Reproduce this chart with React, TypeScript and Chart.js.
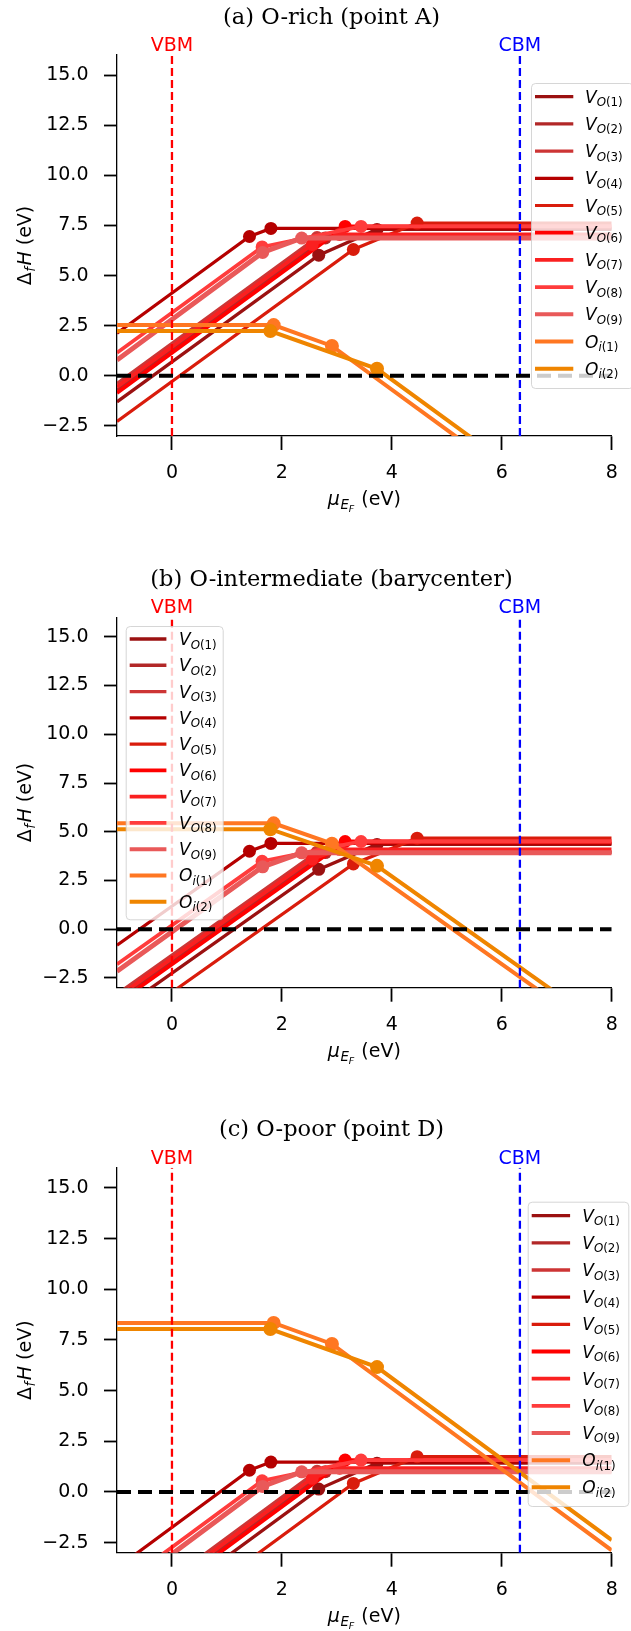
import React, { useEffect, useRef } from "react";
import { Chart, registerables } from "chart.js";

Chart.register(...registerables);

// ---------------- data ----------------
const X_TICKS = [0, 2, 4, 6, 8];
const Y_TICKS = [-2.5, 0, 2.5, 5, 7.5, 10, 12.5, 15];
const X_MIN = -1;
const X_MAX = 8;
const Y_MIN = -3;
const Y_MAX = 16;
const VBM_X = 0;
const CBM_X = 6.33;

const PANEL_TITLES = [
  "(a) O-rich (point A)",
  "(b) O-intermediate (barycenter)",
  "(c) O-poor (point D)",
];

// breakpoints (Fermi level, eV) and formation energies per panel (a, b, c)
const VO1_X = [-1, 2.67, 3.73, 8];
const VO1_A = [-1.3, 6.02, 7.3, 7.3];
const VO1_B = [-4.25, 3.07, 4.35, 4.35];
const VO1_C = [-7.18, 0.14, 1.42, 1.42];

const VO2_X = [-1, 2.79, 8];
const VO2_A = [-0.7, 6.88, 6.88];
const VO2_B = [-3.65, 3.93, 3.93];
const VO2_C = [-6.58, 1.0, 1.0];

const VO3_X = [-1, 2.64, 8];
const VO3_A = [-0.38, 6.9, 6.9];
const VO3_B = [-3.33, 3.95, 3.95];
const VO3_C = [-6.26, 1.02, 1.02];

const VO4_X = [-1, 1.41, 1.8, 8];
const VO4_A = [2.13, 6.95, 7.35, 7.35];
const VO4_B = [-0.82, 4.0, 4.4, 4.4];
const VO4_C = [-3.75, 1.07, 1.47, 1.47];

const VO5_X = [-1, 3.3, 4.46, 8];
const VO5_A = [-2.28, 6.3, 7.62, 7.62];
const VO5_B = [-5.23, 3.35, 4.67, 4.67];
const VO5_C = [-8.16, 0.42, 1.74, 1.74];

const VO6_X = [-1, 3.15, 8];
const VO6_A = [-0.85, 7.45, 7.45];
const VO6_B = [-3.8, 4.5, 4.5];
const VO6_C = [-6.73, 1.57, 1.57];

const VO7_X = [-1, 2.55, 3.05, 8];
const VO7_A = [-0.55, 6.55, 7.05, 7.05];
const VO7_B = [-3.5, 3.6, 4.1, 4.1];
const VO7_C = [-6.43, 0.67, 1.17, 1.17];

const VO8_X = [-1, 1.64, 3.44, 8];
const VO8_A = [1.15, 6.43, 7.45, 7.45];
const VO8_B = [-1.8, 3.48, 4.5, 4.5];
const VO8_C = [-4.73, 0.55, 1.57, 1.57];

const VO9_X = [-1, 1.65, 2.36, 8];
const VO9_A = [0.79, 6.15, 6.87, 6.87];
const VO9_B = [-2.16, 3.2, 3.92, 3.92];
const VO9_C = [-5.09, 0.27, 0.99, 0.99];

const OI1_X = [-1, 1.85, 2.91, 8];
const OI1_A = [2.53, 2.53, 1.49, -8.69];
const OI1_B = [5.43, 5.43, 4.39, -5.79];
const OI1_C = [8.34, 8.34, 7.3, -2.88];

const OI2_X = [-1, 1.79, 3.73, 8];
const OI2_A = [2.23, 2.23, 0.35, -8.19];
const OI2_B = [5.13, 5.13, 3.25, -5.29];
const OI2_C = [8.04, 8.04, 6.16, -2.38];

const LABEL_BASE = ["V", "V", "V", "V", "V", "V", "V", "V", "V", "O", "O"];
const LABEL_SUB = ["O", "O", "O", "O", "O", "O", "O", "O", "O", "i", "i"];
const LABEL_NUM = ["(1)", "(2)", "(3)", "(4)", "(5)", "(6)", "(7)", "(8)", "(9)", "(1)", "(2)"];

// ---------------- styles ----------------
const SERIES = [
  { xs: VO1_X, ys: [VO1_A, VO1_B, VO1_C], color: "#9b1111", width: 3.3, r: 6.5 },
  { xs: VO2_X, ys: [VO2_A, VO2_B, VO2_C], color: "#b22828", width: 3.3, r: 6.5 },
  { xs: VO3_X, ys: [VO3_A, VO3_B, VO3_C], color: "#cd3535", width: 3.3, r: 6.5 },
  { xs: VO4_X, ys: [VO4_A, VO4_B, VO4_C], color: "#b50000", width: 3.2, r: 6.5 },
  { xs: VO5_X, ys: [VO5_A, VO5_B, VO5_C], color: "#d91c0c", width: 3.2, r: 6.5 },
  { xs: VO6_X, ys: [VO6_A, VO6_B, VO6_C], color: "#ff0000", width: 3.8, r: 6.5 },
  { xs: VO7_X, ys: [VO7_A, VO7_B, VO7_C], color: "#fa2020", width: 3.8, r: 6.5 },
  { xs: VO8_X, ys: [VO8_A, VO8_B, VO8_C], color: "#ff3c3c", width: 3.8, r: 6.5 },
  { xs: VO9_X, ys: [VO9_A, VO9_B, VO9_C], color: "#e95959", width: 5, r: 6.5 },
  { xs: OI1_X, ys: [OI1_A, OI1_B, OI1_C], color: "#ff7722", width: 4, r: 7 },
  { xs: OI2_X, ys: [OI2_A, OI2_B, OI2_C], color: "#ef8500", width: 4, r: 7 },
];

const W = 631;
const PANELS = [
  {
    top: 0, height: 545, areaTop: 55, areaBottom: 436,
    legend: { left: 531, top: 83, w: 102, h: 305, first: 13.7, step: 27.2, sample: 38.3, text: 54 },
  },
  {
    top: 545, height: 555, areaTop: 72.3, areaBottom: 442.7,
    legend: { left: 125.7, top: 81, w: 97, h: 293.3, first: 13, step: 26.27, sample: 36.7, text: 53.3 },
  },
  {
    top: 1100, height: 531, areaTop: 67.7, areaBottom: 452.7,
    legend: { left: 527.7, top: 101.7, w: 100.6, h: 304.3, first: 14, step: 27.16, sample: 38.4, text: 54.6 },
  },
];

const SANS = "'DejaVu Sans'";
const SERIF = "'DejaVu Serif'";

type Run = { text: string; font: string; dy?: number; w?: number; gap?: number };

function drawRuns(ctx: CanvasRenderingContext2D, runs: Run[], x: number, y: number, align: string) {
  let total = 0;
  runs.forEach((r) => {
    ctx.font = r.font;
    r.w = ctx.measureText(r.text).width + (r.gap || 0);
    total += r.w;
  });
  let cx = align === "center" ? x - total / 2 : x;
  ctx.textAlign = "left";
  ctx.textBaseline = "alphabetic";
  runs.forEach((r) => {
    ctx.font = r.font;
    ctx.fillText(r.text, cx, y + (r.dy || 0));
    cx += r.w || 0;
  });
}

function fmtY(v: number) {
  const s = Math.abs(v).toFixed(1);
  return v < 0 ? "\u2212" + s : s;
}

function makeConfig(pi: number) {
  const P = PANELS[pi];
  const n = SERIES.length;
  const datasets: any[] = SERIES.map((s, i) => {
    const ys = s.ys[pi];
    const pts = s.xs.map((x, k) => ({ x, y: ys[k] }));
    const last = pts.length - 1;
    return {
      data: pts,
      borderColor: s.color,
      backgroundColor: s.color,
      borderWidth: s.width,
      pointBackgroundColor: s.color,
      pointBorderWidth: 0,
      pointRadius: (c: any) => (c.dataIndex === 0 || c.dataIndex === last ? 0 : s.r),
      pointHoverRadius: 0,
      tension: 0,
      order: -i,
    };
  });
  const refLine = (data: any[], color: string, width: number, dash: number[], idx: number) => ({
    data,
    borderColor: color,
    borderWidth: width,
    borderDash: dash,
    pointRadius: 0,
    pointHoverRadius: 0,
    tension: 0,
    order: -(n + idx),
  });
  datasets.push(refLine([{ x: VBM_X, y: Y_MIN }, { x: VBM_X, y: Y_MAX }], "#ff0000", 2.3, [8, 4], 0));
  datasets.push(refLine([{ x: CBM_X, y: Y_MIN }, { x: CBM_X, y: Y_MAX }], "#0000ff", 2.3, [8, 4], 1));
  datasets.push(refLine([{ x: X_MIN, y: 0 }, { x: X_MAX, y: 0 }], "#000000", 4, [14, 7], 2));

  const decor = {
    id: "decor" + pi,
    afterDraw(chart: any) {
      const ctx: CanvasRenderingContext2D = chart.ctx;
      const area = chart.chartArea;
      const xs = chart.scales.x;
      ctx.save();
      ctx.fillStyle = "#000";
      ctx.textAlign = "center";
      ctx.textBaseline = "alphabetic";
      // title
      ctx.font = `22.5px ${SERIF}`;
      ctx.fillText(PANEL_TITLES[pi], 331.5, area.top - 31.5);
      // VBM / CBM labels
      ctx.font = `19px ${SANS}`;
      ctx.fillStyle = "#ff0000";
      ctx.fillText("VBM", xs.getPixelForValue(VBM_X), area.top - 4);
      ctx.fillStyle = "#0000ff";
      ctx.fillText("CBM", xs.getPixelForValue(CBM_X), area.top - 4);
      ctx.fillStyle = "#000";
      // x label
      drawRuns(
        ctx,
        [
          { text: "\u03bc", font: `italic 19px ${SANS}`, gap: 0.5 },
          { text: "E", font: `italic 13.3px ${SANS}`, dy: 4 },
          { text: "F", font: `italic 9.5px ${SANS}`, dy: 6.8, gap: 1 },
          { text: " (eV)", font: `19px ${SANS}` },
        ],
        (area.left + area.right) / 2,
        area.bottom + 69,
        "center"
      );
      // y label
      ctx.save();
      ctx.translate(24.5, (area.top + area.bottom) / 2);
      ctx.rotate(-Math.PI / 2);
      drawRuns(
        ctx,
        [
          { text: "\u0394", font: `19px ${SANS}`, gap: 0.5 },
          { text: "f", font: `italic 13.3px ${SANS}`, dy: 4, gap: 1.5 },
          { text: "H", font: `italic 19px ${SANS}` },
          { text: " (eV)", font: `19px ${SANS}` },
        ],
        0,
        6.8,
        "center"
      );
      ctx.restore();
      // legend
      const L = P.legend;
      ctx.beginPath();
      (ctx as any).roundRect(L.left + 0.5, L.top + 0.5, L.w, L.h, 4);
      ctx.fillStyle = "rgba(255,255,255,0.8)";
      ctx.fill();
      ctx.strokeStyle = "rgba(204,204,204,0.8)";
      ctx.lineWidth = 1;
      ctx.stroke();
      SERIES.forEach((s, i) => {
        const yy = L.top + L.first + i * L.step;
        ctx.strokeStyle = s.color;
        ctx.lineWidth = Math.min(s.width, 4);
        ctx.setLineDash([]);
        ctx.beginPath();
        ctx.moveTo(L.left + 4, yy);
        ctx.lineTo(L.left + 4 + L.sample, yy);
        ctx.stroke();
        ctx.fillStyle = "#000";
        drawRuns(
          ctx,
          [
            { text: LABEL_BASE[i], font: `italic 17px ${SANS}` },
            { text: LABEL_SUB[i], font: `italic 11.8px ${SANS}`, dy: 3.5 },
            { text: LABEL_NUM[i], font: `11.8px ${SANS}`, dy: 3.5 },
          ],
          L.left + L.text,
          yy + 6,
          "left"
        );
      });
      ctx.restore();
    },
  };

  return {
    type: "line",
    data: { datasets },
    plugins: [decor],
    options: {
      responsive: false,
      maintainAspectRatio: false,
      animation: false,
      devicePixelRatio: 1,
      events: [],
      layout: { padding: { top: P.areaTop, left: 0, right: W - 611.7, bottom: 0 } },
      plugins: { legend: { display: false }, tooltip: { enabled: false }, title: { display: false } },
      scales: {
        x: {
          type: "linear",
          min: X_MIN,
          max: X_MAX,
          afterBuildTicks: (s: any) => {
            s.ticks = X_TICKS.map((v) => ({ value: v }));
          },
          afterFit: (s: any) => {
            s.height = P.height - P.areaBottom;
          },
          grid: { drawOnChartArea: false, drawTicks: true, tickLength: 14, tickWidth: 1.8, tickColor: "#000", color: "#000" },
          border: { display: true, color: "#000", width: 1.3 },
          ticks: {
            autoSkip: false,
            maxRotation: 0,
            color: "#000",
            padding: 12,
            font: { family: "DejaVu Sans", size: 19 },
            callback: (v: any) => String(v),
          },
        },
        y: {
          type: "linear",
          min: Y_MIN,
          max: Y_MAX,
          afterBuildTicks: (s: any) => {
            s.ticks = Y_TICKS.map((v) => ({ value: v }));
          },
          afterFit: (s: any) => {
            s.width = 117;
          },
          grid: { drawOnChartArea: false, drawTicks: true, tickLength: 13, tickWidth: 1.8, tickColor: "#000", color: "#000" },
          border: { display: true, color: "#000", width: 1.3 },
          ticks: {
            autoSkip: false,
            color: "#000",
            padding: 15.5,
            font: { family: "DejaVu Sans", size: 19 },
            callback: (v: any) => fmtY(Number(v)),
          },
        },
      },
    },
  };
}

export default function App() {
  const r0 = useRef<HTMLCanvasElement>(null);
  const r1 = useRef<HTMLCanvasElement>(null);
  const r2 = useRef<HTMLCanvasElement>(null);
  const refs = [r0, r1, r2];

  useEffect(() => {
    const charts: Chart[] = [];
    refs.forEach((r, i) => {
      if (r.current) charts.push(new Chart(r.current, makeConfig(i) as any));
    });
    return () => charts.forEach((c) => c.destroy());
  }, []);

  return (
    <div style={{ position: "absolute", left: 0, top: 0, width: W, height: 1631, background: "#fff" }}>
      {PANELS.map((p, i) => (
        <canvas
          key={i}
          ref={refs[i]}
          width={W}
          height={p.height}
          style={{ position: "absolute", left: 0, top: p.top, width: W, height: p.height, display: "block" }}
        />
      ))}
    </div>
  );
}
